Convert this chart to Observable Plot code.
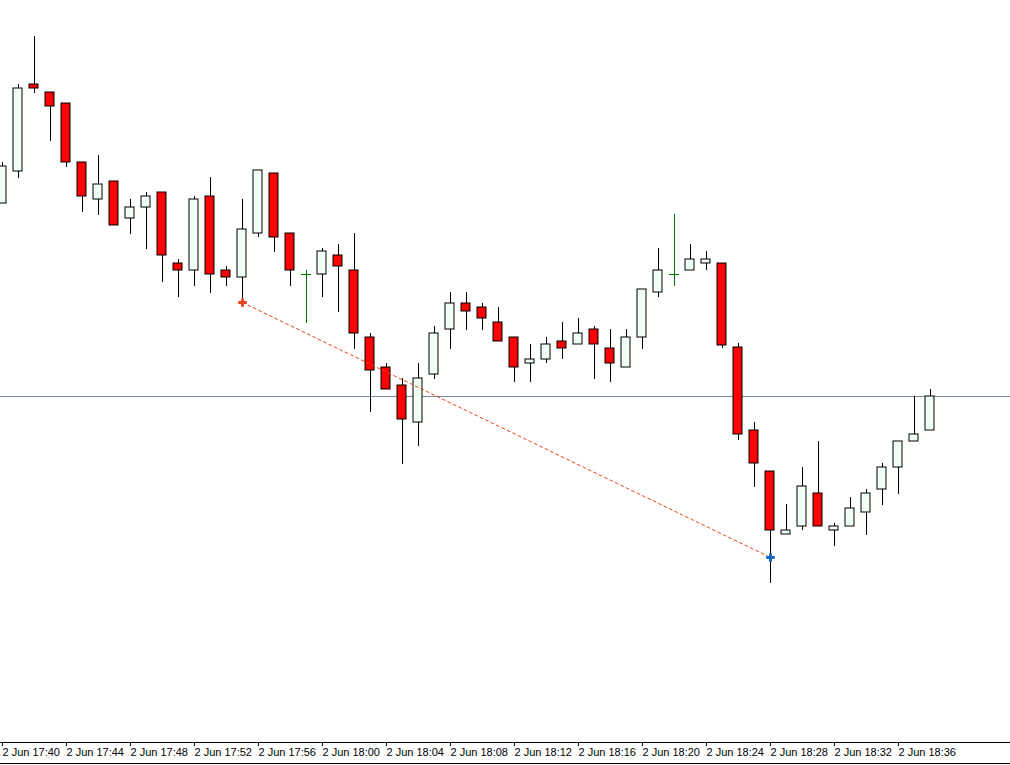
<!DOCTYPE html>
<html><head><meta charset="utf-8">
<script src="https://cdn.jsdelivr.net/npm/d3@7"></script>
<script src="https://cdn.jsdelivr.net/npm/@observablehq/plot@0.6"></script>
<style>
html,body{margin:0;padding:0;background:#fff;}
#chart{width:1010px;height:763px;border-bottom:1px solid #000;overflow:hidden;}
#chart svg{display:block;background:#fff;}
</style></head><body><div id="chart"></div>
<script>
// 1-minute bars, 2 Jun
const times = ["17:40","17:41","17:42","17:43","17:44","17:45","17:46","17:47","17:48","17:49",
  "17:50","17:51","17:52","17:53","17:54","17:55","17:56","17:57","17:58","17:59",
  "18:00","18:01","18:02","18:03","18:04","18:05","18:06","18:07","18:08","18:09",
  "18:10","18:11","18:12","18:13","18:14","18:15","18:16","18:17","18:18","18:19",
  "18:20","18:21","18:22","18:23","18:24","18:25","18:26","18:27","18:28","18:29",
  "18:30","18:31","18:32","18:33","18:34","18:35","18:36","18:37","18:38"];
const opens = [1879.7,1882.9,1891.6,1890.8,1889.7,1883.8,1880.1,1881.9,1878.2,1879.3,
  1880.8,1873.7,1873.0,1880.4,1873.0,1872.3,1876.7,1882.7,1876.7,1872.6,
  1872.6,1874.5,1873.0,1866.3,1863.3,1861.5,1857.8,1862.6,1867.1,1869.7,
  1869.3,1867.8,1866.3,1863.7,1864.1,1865.9,1865.6,1867.1,1865.2,1863.3,
  1866.3,1870.8,1872.6,1873.0,1873.7,1873.7,1865.3,1857.0,1852.9,1846.6,
  1847.4,1850.7,1847.0,1847.4,1848.8,1851.1,1853.3,1855.9,1857.0];
const highs = [1883.8,1891.6,1896.4,1890.8,1889.7,1883.8,1884.5,1881.9,1880.1,1880.8,
  1880.8,1874.1,1880.4,1882.3,1873.4,1880.1,1883.0,1882.7,1876.7,1873.0,
  1875.2,1875.6,1876.7,1866.7,1863.7,1862.2,1863.7,1867.4,1870.8,1870.8,
  1869.7,1869.3,1866.3,1865.6,1866.3,1867.8,1868.2,1867.4,1867.1,1867.1,
  1871.1,1875.2,1878.6,1875.6,1874.9,1873.7,1865.7,1857.8,1852.9,1849.6,
  1853.3,1855.9,1847.7,1850.3,1851.1,1853.7,1855.9,1860.4,1861.1];
const lows = [1879.7,1882.2,1890.7,1885.9,1883.3,1878.8,1878.5,1877.5,1876.6,1875.1,
  1871.8,1870.3,1871.4,1870.7,1871.4,1870.2,1876.3,1874.8,1871.4,1867.7,
  1870.3,1868.8,1865.1,1858.8,1861.1,1853.6,1855.4,1862.1,1865.1,1867.0,
  1867.0,1865.9,1861.8,1861.8,1863.7,1864.1,1865.6,1862.1,1861.8,1863.3,
  1865.1,1870.3,1871.4,1873.0,1873.0,1865.2,1856.0,1851.3,1841.7,1846.6,
  1847.0,1847.4,1845.4,1847.4,1846.5,1849.5,1850.6,1855.9,1857.0];
const closes = [1883.4,1891.2,1891.2,1889.4,1883.8,1880.4,1881.6,1877.5,1879.3,1880.4,
  1874.5,1873.0,1880.1,1872.6,1872.3,1877.1,1883.0,1876.3,1873.0,1872.6,
  1874.9,1873.4,1866.7,1863.0,1861.1,1858.1,1862.2,1866.7,1869.7,1868.9,
  1868.2,1865.9,1863.3,1864.1,1865.6,1865.2,1866.7,1865.6,1863.7,1866.3,
  1871.1,1873.0,1872.6,1874.1,1874.1,1865.5,1856.6,1853.7,1847.0,1847.0,
  1851.4,1847.4,1847.4,1849.2,1850.7,1853.3,1855.9,1856.6,1860.4];
// trade: sell opened 17:55, closed 18:28
const tradeTimes = ["17:55","18:28"];
const tradePrices = [1869.8,1844.3];
const tickTimes = ["17:40","17:44","17:48","17:52","17:56","18:00","18:04","18:08","18:12","18:16","18:20","18:24","18:28","18:32","18:36"];

const parse = s => d3.utcParse("%Y-%m-%d %H:%M")("2023-06-02 " + s);
const bars = times.map((t, i) => ({date: parse(t), open: opens[i], high: highs[i], low: lows[i], close: closes[i]}));
const candles = bars.filter(d => d.open !== d.close);
const dojis = bars.filter(d => d.open === d.close);
const trade = tradeTimes.map((t, i) => ({date: parse(t), price: tradePrices[i]}));
const MIN = 60000, PX = MIN / 16;
const shift = (d, px) => new Date(+d.date + px * PX);

const chart = Plot.plot({
  width: 1010, height: 763,
  marginTop: 0, marginRight: 0, marginBottom: 21, marginLeft: 0,
  style: {background: "#fff"},
  x: {type: "utc", domain: [new Date(+parse("17:40") - 2 * PX), parse("18:43")]},
  y: {domain: [1825.8, 1900], axis: null},
  color: {type: "identity"},
  marks: [
    Plot.ruleY([closes[closes.length - 1]], {stroke: "#778899", strokeWidth: 1}),
    Plot.ruleX(candles, {x: "date", y1: "low", y2: "high", stroke: "#000", strokeWidth: 1}),
    Plot.rect(candles, {
      x1: d => shift(d, -5), x2: d => shift(d, 4),
      y1: "open", y2: "close",
      fill: d => d.close > d.open ? "#f0fff4" : "#ff0000",
      stroke: "#000", strokeWidth: 1
    }),
    Plot.ruleX(dojis, {x: "date", y1: "low", y2: "high", stroke: "#007000", strokeWidth: 1}),
    Plot.ruleY(dojis, {y: "open", x1: d => shift(d, -5), x2: d => shift(d, 5), stroke: "#007000", strokeWidth: 1}),
    Plot.line(trade, {x: "date", y: "price", stroke: "#e8441c", strokeWidth: 1, strokeDasharray: "3,3"}),
    Plot.dot(trade, {x: "date", y: "price", symbol: "cross", r: 3.6, fill: (d, i) => i === 0 ? "#e8441c" : "#1565c0", stroke: "none"}),
    Plot.frame({anchor: "bottom", stroke: "#000"}),
    Plot.axisX({
      ticks: tickTimes.map(parse),
      tickFormat: d => "2 Jun " + d3.utcFormat("%H:%M")(d),
      tickSize: 4, tickPadding: 2, textAnchor: "start",
      fontSize: 11, fontFamily: "'Liberation Sans Narrow', 'Liberation Sans', sans-serif",
      stroke: "#000", fill: "#000"
    })
  ]
});
document.getElementById("chart").append(chart);
</script></body></html>
